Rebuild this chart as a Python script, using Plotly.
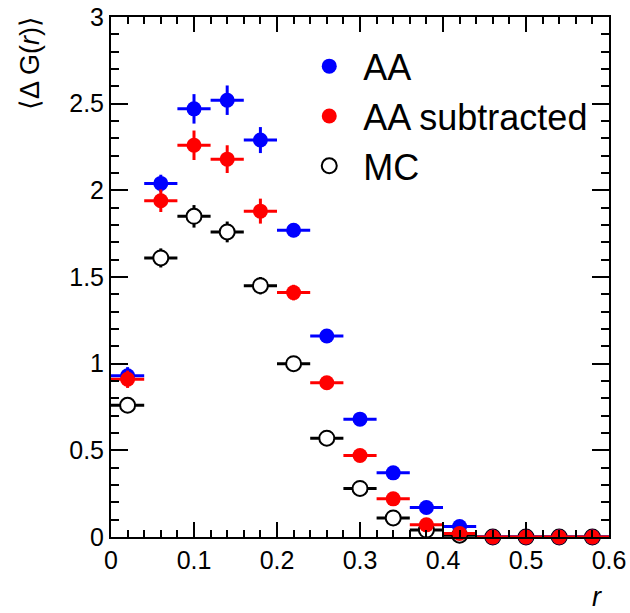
import plotly.graph_objects as go

# bin centres (width 0.04)
r_centers = [0.02, 0.06, 0.10, 0.14, 0.18, 0.22, 0.26, 0.30, 0.34, 0.38, 0.42, 0.46, 0.50, 0.54, 0.58]
half_bin = [0.02] * len(r_centers)

aa_vals = [0.93, 2.04, 2.47, 2.52, 2.29, 1.77, 1.16, 0.68, 0.37, 0.17, 0.06, 0.0, 0.0, 0.0, 0.0]
aa_errs = [0.05, 0.05, 0.085, 0.085, 0.075, 0.04, 0.03, 0.03, 0.02, 0.02, 0.01, 0.0, 0.0, 0.0, 0.0]

sub_vals = [0.91, 1.94, 2.26, 2.18, 1.88, 1.41, 0.89, 0.47, 0.22, 0.07, 0.02, 0.0, 0.0, 0.0, 0.0]
sub_errs = [0.05, 0.065, 0.085, 0.08, 0.072, 0.045, 0.03, 0.03, 0.02, 0.02, 0.01, 0.0, 0.0, 0.0, 0.0]

mc_vals = [0.76, 1.61, 1.85, 1.76, 1.45, 1.00, 0.57, 0.28, 0.11, 0.04, 0.01, 0.0, 0.0, 0.0, 0.0]
mc_errs = [0.04, 0.055, 0.065, 0.06, 0.05, 0.03, 0.02, 0.02, 0.01, 0.01, 0.005, 0.0, 0.0, 0.0, 0.0]

x_ticks = [0, 0.1, 0.2, 0.3, 0.4, 0.5, 0.6]
y_ticks = [0, 0.5, 1, 1.5, 2, 2.5, 3]

FONT = "Liberation Sans, Arial, Helvetica, sans-serif"

fig = go.Figure()

def add_series(name, vals, errs, color, fill, rank):
    fig.add_trace(go.Scatter(
        x=r_centers, y=vals, name=name, mode="markers",
        legendrank=rank,
        marker=dict(symbol="circle", size=15, color=fill,
                    line=dict(color=color, width=2 if fill == "white" else 0)),
        error_x=dict(type="data", array=half_bin, symmetric=True,
                     color=color, thickness=3, width=0),
        error_y=dict(type="data", array=errs, symmetric=True,
                     color=color, thickness=3, width=0),
        cliponaxis=False,
    ))

add_series("MC", mc_vals, mc_errs, "black", "white", 3)
add_series("AA", aa_vals, aa_errs, "#0000ff", "#0000ff", 1)
add_series("AA subtracted", sub_vals, sub_errs, "#ff0000", "#ff0000", 2)

axis_common = dict(
    showline=True, linecolor="black", linewidth=2, mirror="ticks",
    ticks="inside", tickcolor="black", tickwidth=2,
    showgrid=False, zeroline=False, automargin=False,
    tickfont=dict(family=FONT, size=25, color="black"),
)

fig.update_xaxes(range=[0, 0.6], tickvals=x_ticks, ticktext=[str(v) for v in x_ticks],
                 ticklen=15,
                 minor=dict(dtick=0.02, tick0=0, ticks="inside", ticklen=7,
                            tickcolor="black", tickwidth=2, showgrid=False),
                 **axis_common)
fig.update_yaxes(range=[0, 3], tickvals=y_ticks, ticktext=[f"{v:g}" for v in y_ticks],
                 ticklen=17,
                 minor=dict(dtick=0.1, tick0=0, ticks="inside", ticklen=8,
                            tickcolor="black", tickwidth=2, showgrid=False),
                 **axis_common)

fig.add_annotation(text="⟨Δ G(<i>r</i>)⟩", xref="paper", yref="paper",
                   x=0, y=1, xanchor="center", yanchor="top", xshift=-81, yshift=3,
                   textangle=-90, showarrow=False,
                   font=dict(family=FONT, size=27, color="black"))
fig.add_annotation(text="<i>r</i>", xref="paper", yref="paper",
                   x=1, y=0, xanchor="right", yanchor="top", xshift=-5, yshift=-43,
                   showarrow=False,
                   font=dict(family=FONT, size=27, color="black"))

fig.update_layout(
    width=630, height=613,
    margin=dict(l=111, r=21, t=17, b=76, autoexpand=False),
    paper_bgcolor="white", plot_bgcolor="white",
    showlegend=True,
    legend=dict(x=0.37, y=0.963, xanchor="left", yanchor="top",
                bgcolor="rgba(0,0,0,0)", borderwidth=0,
                itemwidth=58,
                font=dict(family=FONT, size=36, color="black")),
)

fig.write_html("out.html")
